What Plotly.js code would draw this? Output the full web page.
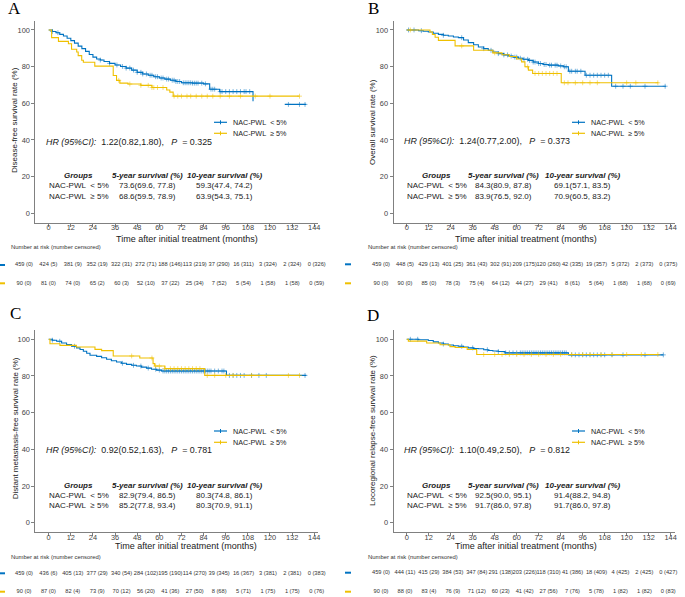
<!DOCTYPE html>
<html><head><meta charset="utf-8">
<script src="https://cdn.plot.ly/plotly-3.0.1.min.js"></script>
<style>html,body{margin:0;padding:0;background:#fff;}#chart{width:685px;height:597px;}</style>
</head><body><div id="chart"></div>
<script>
// ---------------- DATA ----------------
const riskTimes = [0,12,24,36,48,60,72,84,96,108,120,132,144];
const xTicks = [0,12,24,36,48,60,72,84,96,108,120,132,144];
const yTicks = [0,20,40,60,80,100];
const groupLabels = ['NAC-PWL\u00a0\u00a0< 5%', 'NAC-PWL\u00a0\u00a0\u2265 5%'];
const panelLetters = ['A','B','C','D'];
const yTitles = ['Disease-free survival rate (%)','Overall survival rate (%)','Distant metastasis-free survival rate (%)','Locoregional relapse-free survival rate (%)'];
const xTitle = 'Time after initial treatment (months)';
const hrValues = ['1.22(0.82,1.80)','1.24(0.77,2.00)','0.92(0.52,1.63)','1.10(0.49,2.50)'];
const pValues = ['0.325','0.373','0.781','0.812'];
const fiveYearLt = ['73.6(69.6, 77.8)','84.3(80.9, 87.8)','82.9(79.4, 86.5)','92.5(90.0, 95.1)'];
const fiveYearGe = ['68.6(59.5, 78.9)','83.9(76.5, 92.0)','85.2(77.8, 93.4)','91.7(86.0, 97.8)'];
const tenYearLt = ['59.3(47.4, 74.2)','69.1(57.1, 83.5)','80.3(74.8, 86.1)','91.4(88.2, 94.8)'];
const tenYearGe = ['63.9(54.3, 75.1)','70.9(60.5, 83.2)','80.3(70.9, 91.1)','91.7(86.0, 97.8)'];

// Panel A: disease-free survival
const dfsBlueT = [0,2,4,6,8,10,12,14,16,18,20,22,24,26,28,30,33,36,39,42,45,48,51,54,57,60,63,66,69,72,78,84,87.3,92.7,110.8,120,128,139.6];
const dfsBlueS = [100,99.2,98.5,97.6,96.7,95.5,94.2,92.8,91.2,89.8,88.3,86.6,85.2,84.2,83.6,82.8,81.8,80.9,80.1,79.2,78.1,76.9,76.0,75.3,74.5,73.8,73.2,72.6,71.9,71.2,71.0,70.6,67.7,66.4,61.1,null,59.4,59.4];
const dfsYellowT = [0,1.6,5.3,10.7,12.4,15.2,16.0,17.9,18.8,25.0,35.0,36.8,38.6,43,50,56,64,65.7,67.5,136];
const dfsYellowS = [100,95.8,93.8,92.5,89.5,88,86,83.5,82.4,80.3,75.2,72.5,71,70.5,69.8,68.6,67.3,66.1,63.9,63.9];
const dfsBlueCens = [2,5,28,33,37,40,42,44,46,48,50,51,53,55,56,58,59,61,62,64,65,67,68,69,70,71,73,74,75,76,77,78,79,80,81,83,85,88,89,90,93,94,96,98,100,102,104,106,107,109,130,136,139];
const dfsYellowCens = [38,44,50,54,56,57,59,62,68,70,72,75,77,80,83,86,89,93,98,104,112,120,136];
const dfsRiskBlue = ['459 (0)','424 (5)','381 (9)','352 (19)','322 (31)','272 (71)','188 (146)','113 (219)','37 (290)','16 (311)','3 (324)','2 (324)','0 (326)'];
const dfsRiskYellow = ['90 (0)','81 (0)','74 (0)','65 (2)','60 (3)','52 (10)','37 (22)','25 (34)','7 (52)','5 (54)','1 (58)','1 (58)','0 (59)'];

// Panel B: overall survival
const osBlueT = [0,6.4,9,11.8,14.5,17.3,20,22.7,25.5,28.2,31,33.6,36.5,39.1,42,44.5,47,50,53,55.5,58,60.9,63.5,66.4,69,71.8,74.5,77.3,82.7,85.5,88.2,97.3,111.8,141.4];
const osBlueS = [100,99.6,99.3,98.9,98.2,97.6,97.1,96.7,96.2,95.8,94.5,93.1,91.9,90.7,89.8,88.9,88.0,87.1,86.4,85.8,85.2,84.6,84.0,83.4,82.5,81.7,81.2,80.8,80.4,79.9,77.5,75.3,69.3,69.3];
const osYellowT = [0,12.7,14,15.5,17.3,26.4,36.5,47,52,56,60,62.7,64.5,66.4,68.7,84.3,137.3];
const osYellowS = [100,98.9,97.5,96.0,94.3,91.3,88.9,87.5,86.5,85.5,84.2,82.6,79.9,78.1,76.3,71.2,71.2];
const osBlueCens = [1,4,8,20,30,42,46,50,53,55,57,59,60,62,64,66,67,69,70,72,73,75,76,78,79,81,82,84,86,87,89,90,92,93,95,98,100,102,104,106,108,110,114,118,122,130,141];
const osYellowCens = [2,30,48,66,70,72,74,76,78,80,82,86,88,92,96,100,104,120,125,137];
const osRiskBlue = ['459 (0)','448 (5)','429 (13)','401 (25)','361 (43)','302 (91)','209 (175)','120 (260)','42 (335)','19 (357)','5 (372)','2 (373)','0 (375)'];
const osRiskYellow = ['90 (0)','90 (0)','85 (0)','78 (3)','75 (4)','64 (12)','44 (27)','29 (41)','8 (61)','5 (64)','1 (68)','1 (68)','0 (69)'];

// Panel C: distant metastasis-free survival
const dmfsBlueT = [0,2,4.3,7,9.7,12.4,15.1,17,18.8,20.6,22.4,26,28.7,31.4,34,36.8,39.5,42.2,45,47.6,50.3,53.1,55.8,58.5,61.2,96.4,139.7];
const dmfsBlueS = [100,99.5,98.9,98.0,97.1,96.2,95.3,94.4,93.5,92.4,91.3,90.7,89.9,89.1,88.3,87.6,86.9,86.3,85.8,85.4,84.8,84.3,83.7,83.2,82.7,80.3,80.3];
const dmfsYellowT = [0,0.7,6.1,15,25.1,28.7,35,49.4,56.6,57.5,63,84.6,136];
const dmfsYellowS = [100,97.6,96.7,95.8,94.5,93.8,90.9,89.8,86.7,85.4,84.0,80.3,80.3];
const dmfsBlueCens = [2,6,14,40,46,50,54,58,60,62,63,64,65,66,67,68,69,70,71,72,73,74,75,76,77,78,79,80,81,82,83,84,85,86,87,88,90,92,94,95,98,100,102,104,106,110,114,118,139];
const dmfsYellowCens = [45,56,58,60,63,66,68,70,72,74,76,78,80,82,86,90,96,100,110,130,136];
const dmfsRiskBlue = ['459 (0)','436 (6)','405 (13)','377 (29)','340 (54)','284 (102)','195 (190)','114 (270)','39 (345)','16 (367)','3 (381)','2 (381)','0 (383)'];
const dmfsRiskYellow = ['90 (0)','87 (0)','82 (4)','73 (9)','70 (12)','56 (20)','41 (36)','27 (50)','8 (68)','5 (71)','1 (75)','1 (75)','0 (76)'];

// Panel D: locoregional relapse-free survival
const lrrfsBlueT = [0,6.4,11.8,14.5,17.3,20,22.7,25.5,28.2,31,33.6,36.5,39.1,42,44.5,47,50,53.6,88.2,140];
const lrrfsBlueS = [100,99.7,99.3,98.6,98.0,97.4,96.9,96.5,96.2,95.7,95.3,95.0,94.8,94.3,93.9,93.6,93.3,92.6,91.5,91.5];
const lrrfsYellowT = [0,0.9,10.9,18.2,23.6,26.4,33,38.2,137.3];
const lrrfsYellowS = [100,99,98,97,96,95.5,94.4,91.7,91.7];
const lrrfsBlueCens = [2,6,20,30,36,44,50,54,56,58,60,62,63,64,65,66,67,68,69,70,71,72,73,74,75,76,77,78,79,80,81,82,83,84,85,86,87,90,92,94,96,98,100,102,104,106,108,112,118,130,140];
const lrrfsYellowCens = [42,48,52,56,60,64,68,72,76,80,84,90,96,100,106,112,120,128,137];
const lrrfsRiskBlue = ['459 (0)','444 (11)','415 (29)','384 (53)','347 (84)','291 (138)','203 (226)','118 (310)','41 (386)','18 (409)','4 (425)','2 (425)','0 (427)'];
const lrrfsRiskYellow = ['90 (0)','88 (0)','83 (4)','76 (9)','71 (12)','60 (23)','41 (42)','27 (56)','7 (76)','5 (78)','1 (82)','1 (82)','0 (83)'];

// ---------------- STYLE / LAYOUT ----------------
const BLUE = '#0073C2', YELLOW = '#EFC000';
const W = 685, H = 597;
const FONT = 'Liberation Sans, Arial, sans-serif';
const px = v => v / W, py = v => 1 - v / H;

const panels = [
  {bt:dfsBlueT,bs:dfsBlueS,yt:dfsYellowT,ys:dfsYellowS,bc:dfsBlueCens,yc:dfsYellowCens,rb:dfsRiskBlue,ry:dfsRiskYellow},
  {bt:osBlueT,bs:osBlueS,yt:osYellowT,ys:osYellowS,bc:osBlueCens,yc:osYellowCens,rb:osRiskBlue,ry:osRiskYellow},
  {bt:dmfsBlueT,bs:dmfsBlueS,yt:dmfsYellowT,ys:dmfsYellowS,bc:dmfsBlueCens,yc:dmfsYellowCens,rb:dmfsRiskBlue,ry:dmfsRiskYellow},
  {bt:lrrfsBlueT,bs:lrrfsBlueS,yt:lrrfsYellowT,ys:lrrfsYellowS,bc:lrrfsBlueCens,yc:lrrfsYellowCens,rb:lrrfsRiskBlue,ry:lrrfsRiskYellow}
];

const geo = [
  {x0:35.4,x1:318.3,yTop:20.8,yBot:222.5,letter:[14,9],ytl:[15,120],xtl:[186.7,238.5],leg:[214,227,231,122.3,133.3],hr:[44.3,141.7],cols:[78.7,147,224],rows:[175.7,185.7,196.7],rt:[9.3,247.3],r0:24,r1:316.7,rb:265,ry:283.3,dash:[0,5]},
  {x0:393.5,x1:674.7,yTop:20.8,yBot:222.5,letter:[374,9],ytl:[372.3,121.7],xtl:[525.8,238.5],leg:[572,585,589,122.3,133.3],hr:[402.3,141],cols:[436.5,504,582],rows:[175.7,185.7,196.7],rt:[366,247.3],r0:381,r1:668.3,rb:264.3,ry:283.3,dash:[345,351]},
  {x0:35.4,x1:318.3,yTop:330.1,yBot:531.9,letter:[15,313.5],ytl:[15,428.3],xtl:[186,545.5],leg:[214,227,231,431,442.3],hr:[44.3,450],cols:[78.7,147,224],rows:[485,495,505.7],rt:[9.3,556.7],r0:24,r1:316.7,rb:573.3,ry:591.7,dash:[0,5]},
  {x0:393.5,x1:674.7,yTop:330.1,yBot:531.9,letter:[373,315],ytl:[372.3,430.7],xtl:[525.8,545.5],leg:[572,585,589,431,442.3],hr:[402.3,450],cols:[436.5,504,582],rows:[485,495,505.7],rt:[366,556.7],r0:381,r1:668.3,rb:572.7,ry:591.7,dash:[345,351]}
];

function stepAt(T, S, t) {
  let v = S[0];
  for (let i = 0; i < T.length; i++) {
    if (S[i] === null) continue;
    if (T[i] <= t) v = S[i]; else break;
  }
  return v;
}

const traces = [], annotations = [], shapes = [];
const layout = {
  width: W, height: H, margin: {l:0,r:0,t:0,b:0},
  paper_bgcolor: '#fff', plot_bgcolor: 'rgba(0,0,0,0)',
  showlegend: false, font: {family: FONT, color: '#222'}
};

panels.forEach((p, i) => {
  const g = geo[i];
  const xa = 'x' + (i+1), ya = 'y' + (i+1);
  const xr = 'x' + (i+5), yr = 'y' + (i+5);
  layout['xaxis' + (i+1)] = {
    domain: [px(g.x0), px(g.x1)], anchor: ya, range: [-7.2, 146.2],
    tickvals: xTicks, ticks: 'outside', ticklen: 3, tickcolor: '#808080', tickwidth: 1,
    ticklabelstandoff: -5,
    showline: true, linecolor: '#808080', linewidth: 1, showgrid: false, zeroline: false,
    tickfont: {size: 7.4, color: '#444', family: FONT}, fixedrange: true
  };
  layout['yaxis' + (i+1)] = {
    domain: [py(g.yBot), py(g.yTop)], anchor: xa, range: [-5, 105],
    tickvals: yTicks, ticks: 'outside', ticklen: 3, tickcolor: '#808080', tickwidth: 1,
    showline: true, linecolor: '#808080', linewidth: 1, showgrid: false, zeroline: false,
    tickfont: {size: 7.4, color: '#444', family: FONT}, fixedrange: true
  };
  layout['xaxis' + (i+5)] = {domain: [px(g.r0), px(g.r1)], anchor: yr, range: [0, 144], visible: false, fixedrange: true};
  layout['yaxis' + (i+5)] = {domain: [py(g.ry), py(g.rb)], anchor: xr, range: [0, 1], visible: false, fixedrange: true};

  // curves
  [[p.bt, p.bs, p.bc, BLUE], [p.yt, p.ys, p.yc, YELLOW]].forEach(([T, S, C, col]) => {
    traces.push({type:'scatter', mode:'lines', x:T, y:S, xaxis:xa, yaxis:ya,
      line:{color:col, width:1.1, shape:'hv'}, connectgaps:false, hoverinfo:'skip'});
    traces.push({type:'scatter', mode:'markers', x:C, y:C.map(t => stepAt(T, S, t)), xaxis:xa, yaxis:ya,
      marker:{symbol:'cross-thin', size:3.5, color:col, line:{color:col, width:0.7}}, opacity:0.75, hoverinfo:'skip'});
  });

  // risk table text
  traces.push({type:'scatter', mode:'text', x:riskTimes, y:riskTimes.map(() => 1), text:p.rb, xaxis:xr, yaxis:yr,
    cliponaxis:false, textposition:'middle center',
    textfont:{size:5.7, color:'#333', family:FONT}, hoverinfo:'skip'});
  traces.push({type:'scatter', mode:'text', x:riskTimes, y:riskTimes.map(() => 0), text:p.ry, xaxis:xr, yaxis:yr,
    cliponaxis:false, textposition:'middle center',
    textfont:{size:5.7, color:'#333', family:FONT}, hoverinfo:'skip'});

  // annotations
  const ann = (x, y, text, o) => annotations.push(Object.assign({xref:'paper', yref:'paper', x:px(x), y:py(y), text:text,
    showarrow:false, xanchor:'center', yanchor:'middle', font:{size:8, color:'#1a1a1a', family:FONT}}, o || {}));
  ann(g.letter[0], g.letter[1], panelLetters[i], {font:{size:17, color:'#000', family:'Liberation Serif, Times New Roman, serif'}});
  ann(g.ytl[0], g.ytl[1], yTitles[i], {textangle:-90, font:{size:8, color:'#1a1a1a', family:FONT}});
  ann(g.xtl[0], g.xtl[1], xTitle, {font:{size:9, color:'#1a1a1a', family:FONT}});
  ann(g.hr[0], g.hr[1], '<i>HR (95%CI):</i>\u00a0\u00a0' + hrValues[i] + ',\u00a0\u00a0\u00a0<i>P</i>\u00a0\u00a0= ' + pValues[i],
    {xanchor:'left', font:{size:8.9, color:'#1a1a1a', family:FONT}});
  ann(g.cols[0], g.rows[0], '<b><i>Groups</i></b>');
  ann(g.cols[1], g.rows[0], '<b><i>5-year survival (%)</i></b>');
  ann(g.cols[2], g.rows[0], '<b><i>10-year survival (%)</i></b>');
  ann(g.cols[0], g.rows[1], groupLabels[0]);
  ann(g.cols[1], g.rows[1], fiveYearLt[i]);
  ann(g.cols[2], g.rows[1], tenYearLt[i]);
  ann(g.cols[0], g.rows[2], groupLabels[1]);
  ann(g.cols[1], g.rows[2], fiveYearGe[i]);
  ann(g.cols[2], g.rows[2], tenYearGe[i]);
  ann(g.leg[2], g.leg[3], groupLabels[0], {xanchor:'left', font:{size:7.2, color:'#1a1a1a', family:FONT}});
  ann(g.leg[2], g.leg[4], groupLabels[1], {xanchor:'left', font:{size:7.2, color:'#1a1a1a', family:FONT}});
  ann(g.rt[0], g.rt[1], 'Number at risk (number censored)', {xanchor:'left', font:{size:5.9, color:'#333', family:FONT}});

  // legend keys
  [[g.leg[3], BLUE], [g.leg[4], YELLOW]].forEach(([yy, col]) => {
    shapes.push({type:'line', xref:'paper', yref:'paper', x0:px(g.leg[0]), x1:px(g.leg[1]), y0:py(yy), y1:py(yy), line:{color:col, width:1.2}});
    const cx = (g.leg[0] + g.leg[1]) / 2;
    shapes.push({type:'line', xref:'paper', yref:'paper', x0:px(cx), x1:px(cx), y0:py(yy-2), y1:py(yy+2), line:{color:col, width:1}});
  });
  // risk table row keys
  [[g.rb, BLUE], [g.ry, YELLOW]].forEach(([yy, col]) => {
    shapes.push({type:'line', xref:'paper', yref:'paper', x0:px(g.dash[0]), x1:px(g.dash[1]), y0:py(yy), y1:py(yy), line:{color:col, width:2}});
  });
});

layout.annotations = annotations;
layout.shapes = shapes;
Plotly.newPlot('chart', traces, layout, {staticPlot: true, displayModeBar: false});
</script>
</body></html>
